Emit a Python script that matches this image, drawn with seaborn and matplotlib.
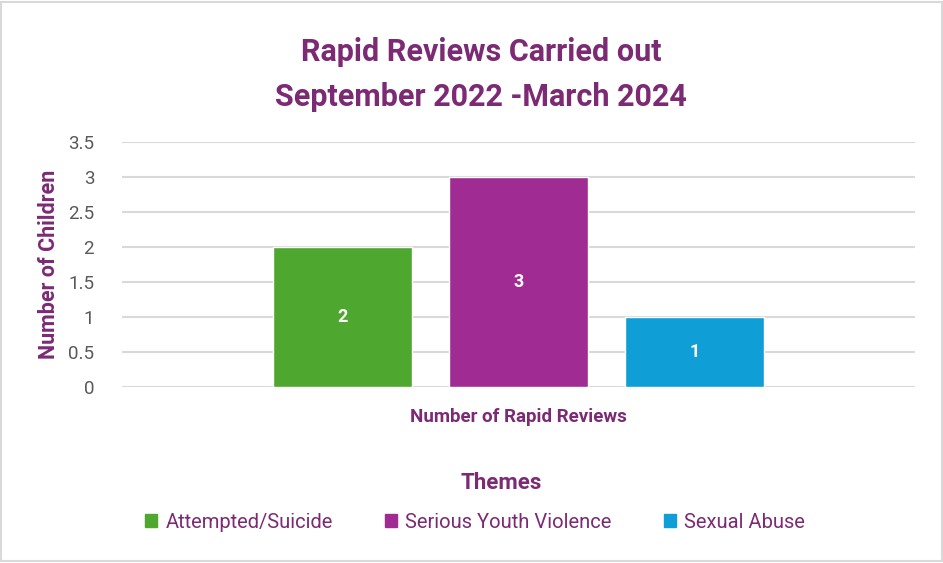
import pandas as pd
import matplotlib.pyplot as plt
import seaborn as sns
from matplotlib.patches import Rectangle

# ---- DATA ----
themes = ["Attempted/Suicide", "Serious Youth Violence", "Sexual Abuse"]
counts = [2, 3, 1]
category = "Number of Rapid Reviews"
colors = ["#4EA72E", "#A02B93", "#0F9ED5"]
yticks = [0, 0.5, 1, 1.5, 2, 2.5, 3, 3.5]

TEXT = "#7B2A73"

df = pd.DataFrame({"category": [category] * len(themes), "theme": themes, "count": counts})

sns.set_theme(style="white")
plt.rcParams["font.family"] = ["Roboto", "DejaVu Sans"]

fig = plt.figure(figsize=(9.43, 5.63), dpi=100)
ax = fig.add_axes([122 / 943, 1 - 387 / 563, (915 - 122) / 943, (387 - 142) / 563])

sns.barplot(data=df, x="category", y="count", hue="theme", palette=colors,
            width=0.666, gap=0.21, saturation=1, ax=ax, legend=False, zorder=3)

for cont in ax.containers:
    ax.bar_label(cont, label_type="center", color="white", fontsize=13, fontweight="bold")

ax.set_xlim(-0.5, 0.5)
ax.set_ylim(0, 3.5)
ax.set_yticks(yticks)
ax.set_yticklabels([f"{t:g}" for t in yticks])
ax.grid(axis="y", color="#D9D9D9", linewidth=1.5, zorder=0)
for s in ax.spines.values():
    s.set_visible(False)
ax.tick_params(axis="y", length=0, pad=20, labelsize=13.5, labelcolor="#595959")
ax.tick_params(axis="x", length=0, pad=15, labelsize=13.5, labelcolor=TEXT)
for lab in ax.get_xticklabels():
    lab.set_fontweight("bold")

ax.set_xlabel("")
ax.set_ylabel("Number of Children", fontsize=15.5, fontweight="bold", color=TEXT, labelpad=6)

fig.text(481 / 943, 1 - 52 / 563, "Rapid Reviews Carried out", ha="center", va="center",
         fontsize=22, fontweight="bold", color=TEXT)
fig.text(481 / 943, 1 - 97 / 563, "September 2022 -March 2024", ha="center", va="center",
         fontsize=22, fontweight="bold", color=TEXT)
fig.text(501 / 943, 1 - 483 / 563, "Themes", ha="center", va="center",
         fontsize=16, fontweight="bold", color=TEXT)

handles = [Rectangle((0, 0), 1, 1, color=c) for c in colors]
leg = fig.legend(handles, themes, loc="center", bbox_to_anchor=(475 / 943, 1 - 522 / 563),
                 ncol=3, frameon=False, fontsize=14.5, handlelength=0.6, handleheight=0.6,
                 handletextpad=0.4, columnspacing=2.6)
for t in leg.get_texts():
    t.set_color(TEXT)

fig.add_artist(Rectangle((0.001, 0.004), 0.998, 0.992, transform=fig.transFigure,
                         fill=False, edgecolor="#D9D9D9", linewidth=1.5))

fig.savefig("out.png", dpi=100)
